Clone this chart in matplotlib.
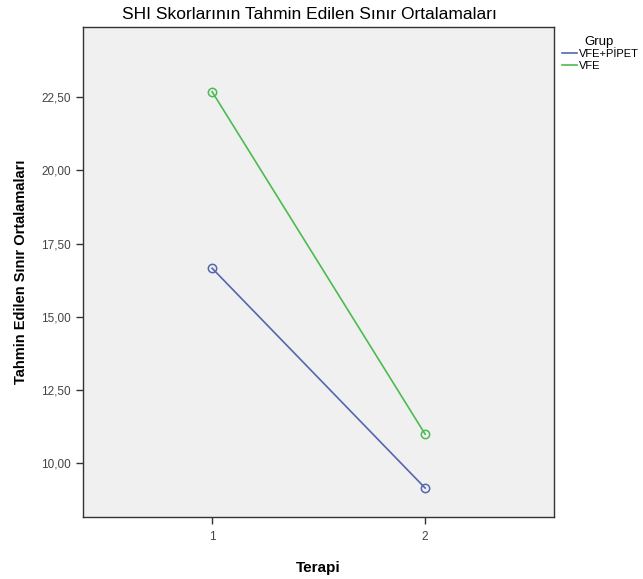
import matplotlib.pyplot as plt
from matplotlib.ticker import FuncFormatter

plt.rcParams['font.family'] = ['Liberation Sans', 'DejaVu Sans']

terapi = [1, 2]
vfe_pipet = [16.66, 9.15]
vfe = [22.69, 10.99]
groups = ['VFE+PİPET', 'VFE']
colors = ['#5467ae', '#4cbb50']

fig = plt.figure(figsize=(6.43, 5.79), dpi=100)
ax = fig.add_axes([0.129, 0.107, 0.733, 0.846])
ax.set_facecolor('#f0f0f0')

for vals, name, c in zip([vfe_pipet, vfe], groups, colors):
    ax.plot(terapi, vals, color=c, lw=1.2, marker='o', markersize=6,
            markerfacecolor='none', markeredgecolor=c, markeredgewidth=1.1, label=name)

ax.set_xlim(0.394, 2.606)
ax.set_ylim(8.16, 24.89)
ax.set_xticks(terapi)
ax.set_yticks([10, 12.5, 15, 17.5, 20, 22.5])
ax.yaxis.set_major_formatter(FuncFormatter(lambda v, p: f'{v:.2f}'.replace('.', ',')))
ax.tick_params(direction='out', length=5, width=1, labelsize=8.5, colors='#333333', labelcolor='#444444')
ax.tick_params(axis='x', pad=5)
for s in ax.spines.values():
    s.set_color('#333333')
    s.set_linewidth(1)

ax.set_xlabel('Terapi', fontsize=11, fontweight='bold', labelpad=13)
ax.set_ylabel('Tahmin Edilen Sınır Ortalamaları', fontsize=10.5, fontweight='bold', labelpad=10)
fig.text(0.482, 0.975, 'SHI Skorlarının Tahmin Edilen Sınır Ortalamaları', ha='center', va='center', fontsize=12.5)

leg = ax.legend(title='Grup', loc='upper left', bbox_to_anchor=(0.866, 0.948),
                bbox_transform=fig.transFigure, frameon=False, fontsize=8,
                handlelength=1.3, handletextpad=0.15, labelspacing=0.15, borderpad=0,
                title_fontsize=9.5)
leg._legend_box.align = 'left'
leg.get_title().set_position((22, 0))
for h in leg.legend_handles:
    h.set_marker('')

fig.savefig('out.png', dpi=100)
